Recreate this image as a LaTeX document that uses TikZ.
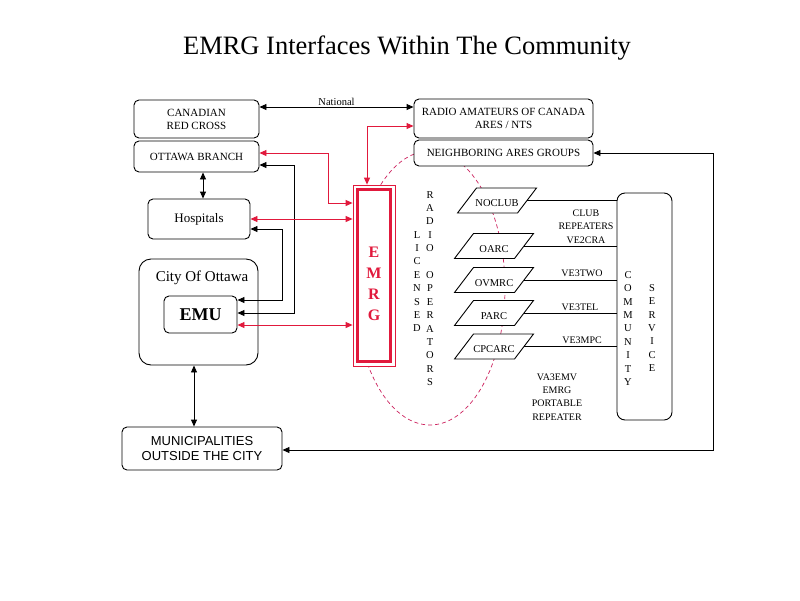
\documentclass[tikz,border=0pt]{standalone}
\usepackage{fontspec}
\setmainfont{Liberation Serif}
\newfontfamily\arialfont{Liberation Sans}
\usetikzlibrary{arrows.meta,calc}
\definecolor{emred}{RGB}{225,25,60}
\definecolor{ellred}{RGB}{205,35,95}
\newcommand{\paranode}[4]{%
  \draw[fill=white,line width=0.9pt] ({#2-30+9.5},{#3-12.5}) -- ({#2+30+9.5},{#3-12.5}) -- ({#2+30-9.5},{#3+12.5}) -- ({#2-30-9.5},{#3+12.5}) -- cycle;
  \node[para] (#1) at (#2,#3) {#4};}
\begin{document}
\begin{tikzpicture}[x=1pt,y=-1pt,
  box/.style={draw,rounded corners=5pt,fill=white,line width=0.9pt,inner sep=0pt,align=center},
  lbl/.style={font=\fontsize{11}{13}\selectfont},
  arr/.style={line width=0.9pt,>={Triangle[length=7pt,width=6pt]},<->},
  blk/.style={arr,draw=black},
  rd/.style={arr,draw=emred},
  plain/.style={line width=0.9pt},
  para/.style={minimum width=60pt,minimum height=25pt,inner sep=0pt,text height=12pt,text depth=0pt,font=\fontsize{10.5}{13}\selectfont},
  stack/.style={align=center,inner sep=0pt,font=\fontsize{10.5}{13.4}\selectfont}
]
\useasboundingbox (0,0) rectangle (800,600);
\fill[white] (0,0) rectangle (800,600);

\node[anchor=base,inner sep=0pt,font=\fontsize{26.5}{30}\selectfont] (title) at (407,54) {EMRG Interfaces Within The Community};

% dashed ellipse behind everything
\draw[ellred,line width=0.7pt,dash pattern=on 4pt off 3pt] (430,288) ellipse [x radius=75, y radius=137];

% left side boxes
\node[box,lbl,minimum width=125pt,minimum height=38pt] (redcross) at (196.5,119) {CANADIAN\\RED CROSS};
\node[box,lbl,minimum width=125pt,minimum height=31pt] (ottawa) at (196.5,156.5) {OTTAWA BRANCH};
\node[box,lbl,minimum width=179pt,minimum height=39pt] (rac) at (503.5,118.5) {RADIO AMATEURS OF CANADA\\ARES / NTS};
\node[box,lbl,minimum width=179pt,minimum height=26pt] (neigh) at (503.5,153) {NEIGHBORING ARES GROUPS};
\node[box,minimum width=102pt,minimum height=40pt,font=\fontsize{13}{15}\selectfont] (hosp) at (199,219) {Hospitals};
\node[box,rounded corners=12pt,minimum width=119pt,minimum height=106pt] (city) at (198.5,312) {};
\node[inner sep=0pt,font=\fontsize{15}{18}\selectfont] (citylbl) at (202,278) {City Of Ottawa};
\node[box,minimum width=73pt,minimum height=37pt,font=\bfseries\fontsize{18}{20}\selectfont] (emu) at (200.5,314.5) {EMU};
\node[box,minimum width=160pt,minimum height=43pt,font=\arialfont\fontsize{13}{15}\selectfont] (muni) at (202,448.5) {MUNICIPALITIES\\OUTSIDE THE CITY};

% EMRG box
\node[draw=emred,fill=white,line width=0.8pt,minimum width=42pt,minimum height=181pt,inner sep=0pt] (emrg) at (374,275.5) {};
\draw[emred,line width=3.5pt] ($(emrg.north west)+(5,5)$) rectangle ($(emrg.south east)+(-5,-5)$);
\node[text=emred,align=center,inner sep=0pt,font=\bfseries\fontsize{16}{21}\selectfont] (emrgtxt) at (374,283.5) {E\\M\\R\\G};

% vertical texts
\node[stack] (licensed) at (417,281.5) {L\\I\\C\\E\\N\\S\\E\\D};
\node[stack] (radioops) at (430,288.5) {R\\A\\D\\I\\O\\~\\O\\P\\E\\R\\A\\T\\O\\R\\S};

% community service
\node[box,rounded corners=8pt,minimum width=55pt,minimum height=227pt] (comm) at (644.5,306.5) {};
\node[stack] (commtxt) at (628,328.5) {C\\O\\M\\M\\U\\N\\I\\T\\Y};
\node[stack] (servtxt) at (652,328) {S\\E\\R\\V\\I\\C\\E};

% clubs
\paranode{noclub}{497}{200.5}{NOCLUB}
\paranode{oarc}{494}{246}{OARC}
\paranode{ovmrc}{494}{280}{OVMRC}
\paranode{parc}{494}{313}{PARC}
\paranode{cpcarc}{494}{346.5}{CPCARC}

\draw[plain] (noclub.east) -- (comm.west |- noclub.east);
\draw[plain] (oarc.east) -- (comm.west |- oarc.east);
\draw[plain] (ovmrc.east) -- (comm.west |- ovmrc.east);
\draw[plain] (parc.east) -- (comm.west |- parc.east);
\draw[plain] (cpcarc.east) -- (comm.west |- cpcarc.east);

\node[stack,font=\fontsize{10}{13.5}\selectfont] (clubrep) at (586,226.5) {CLUB\\REPEATERS\\VE2CRA};
\node[inner sep=0pt,font=\fontsize{10}{12}\selectfont] (ve3two) at (582,273) {VE3TWO};
\node[inner sep=0pt,font=\fontsize{10}{12}\selectfont] (ve3tel) at (580,307) {VE3TEL};
\node[inner sep=0pt,font=\fontsize{10}{12}\selectfont] (ve3mpc) at (582,340) {VE3MPC};
\node[stack,font=\fontsize{10}{13.3}\selectfont] (va3emv) at (557,397) {VA3EMV\\EMRG\\PORTABLE\\REPEATER};

% connectors
\draw[blk] (redcross.east |- 0,107) -- (rac.west |- 0,107) node[midway,above=0.5pt,inner sep=0pt,font=\fontsize{10.5}{12}\selectfont] (natl) {National};
\draw[rd] (rac.west |- 0,126) -| (emrg.north -| 367,0);
\draw[rd] (ottawa.east |- 0,153) -| (328,203) -- (emrg.west |- 0,203);
\draw[blk] (ottawa.east |- 0,165) -| (294,313) -- (emu.east |- 0,313);
\draw[blk] (hosp.east |- 0,229) -| (282,300) -- (emu.east |- 0,300);
\draw[rd] (hosp.east |- 0,219) -- (emrg.west |- 0,219);
\draw[rd] (emu.east |- 0,325) -- (emrg.west |- 0,325);
\draw[blk] (ottawa.south -| 203,0) -- (hosp.north -| 203,0);
\draw[blk] (city.south -| 194,0) -- (muni.north -| 194,0);
\draw[blk] (neigh.east) -| (713,450) -- (muni.east |- 0,450);
\end{tikzpicture}
\end{document}
